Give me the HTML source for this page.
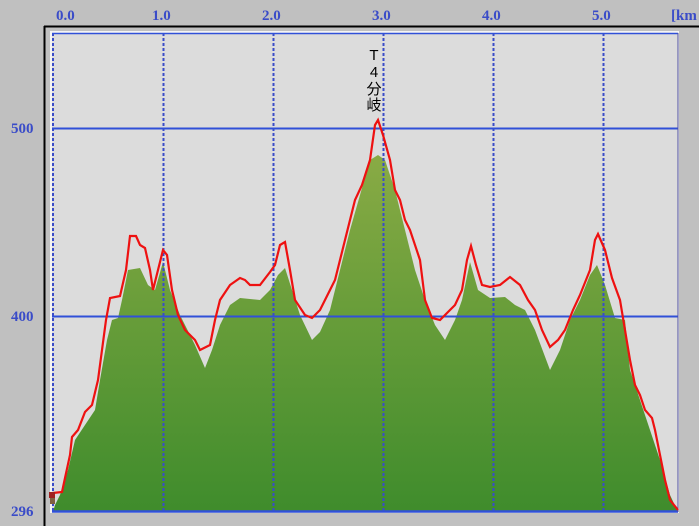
<!DOCTYPE html>
<html><head><meta charset="utf-8"><style>
html,body{margin:0;padding:0;background:#c0c0c0;}
svg{display:block;}
.t{font-family:"Liberation Serif","Noto Serif CJK SC",serif;font-size:15px;font-weight:bold;fill:#3a4cc8;}
</style></head><body>
<svg width="699" height="526" viewBox="0 0 699 526" xmlns="http://www.w3.org/2000/svg">
<defs>
<linearGradient id="g" x1="0" y1="150" x2="0" y2="512" gradientUnits="userSpaceOnUse">
<stop offset="0" stop-color="#8aab45"/>
<stop offset="1" stop-color="#3f8c2c"/>
</linearGradient>
</defs>
<rect width="699" height="526" fill="#c0c0c0"/>
<line x1="44" y1="26.5" x2="699" y2="26.5" stroke="#000" stroke-width="2"/>
<line x1="44.5" y1="26" x2="44.5" y2="526" stroke="#000" stroke-width="2"/>
<rect x="50" y="31" width="629" height="482" fill="#f4f4f4"/>
<rect x="52" y="33" width="626" height="479" fill="#dcdcdc"/>
<polygon fill="url(#g)" points="53,512 55,505 60,495 68,470 75,440 85,425 95,410 100,380 107,340 112,320 118,318 122,300 128,270 140,268 148,285 155,290 163,262 170,290 180,315 195,345 205,368 212,350 220,325 230,305 240,298 260,300 270,290 278,275 285,268 292,290 300,315 312,340 320,332 330,310 340,270 350,230 360,195 370,160 378,155 385,160 395,190 405,230 415,270 425,300 435,325 445,340 455,320 462,300 470,262 478,290 490,298 505,297 515,305 525,310 535,330 550,370 560,350 570,320 580,300 590,275 597,265 605,285 615,318 625,320 630,370 640,400 650,430 660,460 670,495 678,512"/>
<g stroke="#3a4cc8" stroke-width="2" stroke-dasharray="3,2">
<line x1="53" y1="33" x2="53" y2="512"/>
<line x1="163.5" y1="33" x2="163.5" y2="512"/>
<line x1="273.5" y1="33" x2="273.5" y2="512"/>
<line x1="383.5" y1="33" x2="383.5" y2="512"/>
<line x1="493.5" y1="33" x2="493.5" y2="512"/>
<line x1="603.5" y1="33" x2="603.5" y2="512"/>
</g>
<g stroke="#3050d8" stroke-width="2">
<line x1="52" y1="33.5" x2="678" y2="33.5" stroke-width="1.5"/>
<line x1="52" y1="128.5" x2="678" y2="128.5"/>
<line x1="52" y1="316.5" x2="678" y2="316.5"/>
<line x1="52" y1="511.5" x2="678" y2="511.5" stroke-width="2.5"/>
<line x1="678" y1="33" x2="678" y2="512" stroke="#5050a0" stroke-width="1"/>
</g>
<polyline fill="none" stroke="#ee1111" stroke-width="2.2" points="53,493 62,492 65,478 70,455 72,437 78,430 85,412 92,405 98,380 102,350 106,320 110,298 120,296 126,270 130,236 136,236 140,245 145,248 150,270 153,290 158,270 163,250 167,255 172,290 178,315 185,330 195,340 200,350 210,345 215,320 220,300 230,285 240,278 245,280 250,285 260,285 270,272 275,265 280,245 285,242 290,270 295,300 305,315 312,318 320,310 325,300 335,280 345,240 355,200 362,185 370,160 375,125 378,120 383,135 390,160 395,190 400,200 405,220 410,230 420,260 425,300 432,318 440,320 450,310 455,305 462,290 467,260 471,246 476,265 482,285 490,287 500,285 510,277 520,285 528,300 535,310 542,330 550,347 558,340 565,330 573,310 580,295 590,270 595,240 598,234 605,250 612,278 620,300 630,360 635,385 640,395 645,410 652,418 655,430 660,455 665,480 670,500 678,510"/>
<rect x="49" y="492" width="6" height="6" fill="#a02020"/>
<rect x="50" y="498" width="5" height="6" fill="#806040"/>
<text class="t" x="56" y="20">0.0</text>
<text class="t" x="152" y="20">1.0</text>
<text class="t" x="262" y="20">2.0</text>
<text class="t" x="372" y="20">3.0</text>
<text class="t" x="482" y="20">4.0</text>
<text class="t" x="592" y="20">5.0</text>
<text class="t" x="671" y="20">[km</text>
<text class="t" x="11" y="133">500</text>
<text class="t" x="11" y="321">400</text>
<text class="t" x="11" y="516">296</text>
<g font-family="Liberation Sans,'Noto Sans CJK JP',sans-serif" font-size="15" fill="#000" text-anchor="middle">
<text x="374" y="60">T</text>
<text x="374" y="77">4</text>
<text x="374" y="94">分</text>
<text x="374" y="110">岐</text>
</g>
</svg>
</body></html>
